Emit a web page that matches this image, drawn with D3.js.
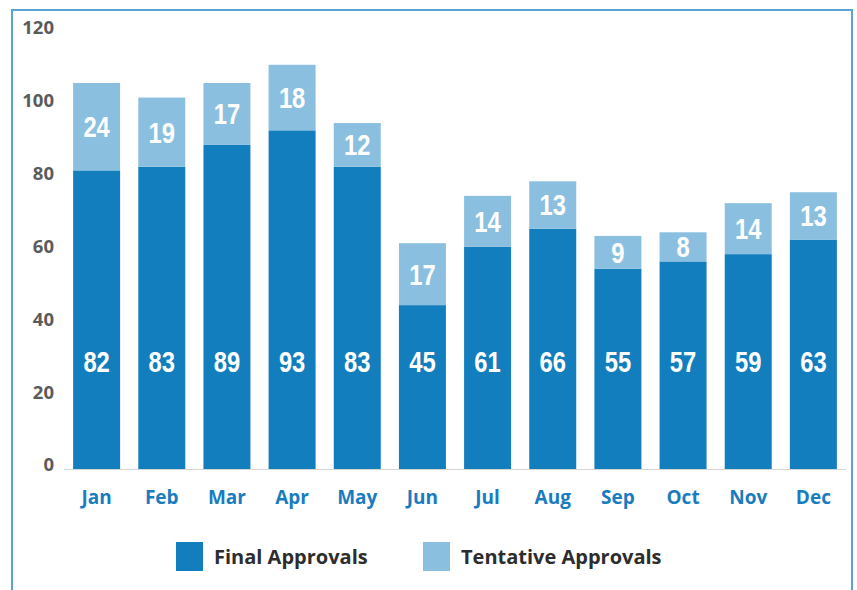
<!DOCTYPE html>
<html>
<head>
<meta charset="utf-8">
<script src="https://cdn.jsdelivr.net/npm/d3@7"></script>
<style>
  html, body { margin: 0; padding: 0; background: #fff; }
  svg { display: block; }
  .tick-y { font-family: "Open Sans", sans-serif; font-weight: 700; font-size: 18.5px; fill: #5b5b5b; }
  .tick-x { font-family: "Open Sans", sans-serif; font-weight: 700; font-size: 19px; fill: #1a7cbf; }
  .val { font-family: "Liberation Sans", Arial, sans-serif; font-weight: 700; font-size: 29px; fill: #fff; }
  .leg { font-family: "Open Sans", sans-serif; font-weight: 700; font-size: 20px; fill: #2d2d2d; }
</style>
</head>
<body>
<svg id="chart" width="857" height="590"></svg>
<script>
const months = ["Jan", "Feb", "Mar", "Apr", "May", "Jun", "Jul", "Aug", "Sep", "Oct", "Nov", "Dec"];
const finalApprovals = [82, 83, 89, 93, 83, 45, 61, 66, 55, 57, 59, 63];
const tentativeApprovals = [24, 19, 17, 18, 12, 17, 14, 13, 9, 8, 14, 13];
const yTicks = [0, 20, 40, 60, 80, 100, 120];
const seriesNames = ["Final Approvals", "Tentative Approvals"];
const colors = ["#127ebd", "#8abfdf"];

const W = 857, H = 590;
const svg = d3.select("#chart");

// frame round the chart (no bottom edge in the reference)
svg.append("path")
  .attr("d", `M12,${H} V10 H852 V${H}`)
  .attr("fill", "none")
  .attr("stroke", "#5aa3d4")
  .attr("stroke-width", 2);

const x = d3.scaleBand()
  .domain(months)
  .range([64, 846])
  .paddingInner(0.279)
  .paddingOuter(0.14);

const y = d3.scaleLinear()
  .domain([0, 120])
  .range([469, 32]);

const rows = months.map((m, i) => ({
  month: m,
  final: finalApprovals[i],
  tentative: tentativeApprovals[i],
}));

const stack = d3.stack().keys(["final", "tentative"])(rows);

const layers = svg.append("g")
  .selectAll("g")
  .data(stack)
  .join("g")
  .attr("fill", (d, i) => colors[i]);

layers.selectAll("rect")
  .data((d) => d)
  .join("rect")
  .attr("x", (d) => x(d.data.month))
  .attr("y", (d) => y(d[1]))
  .attr("width", x.bandwidth())
  .attr("height", (d) => y(d[0]) - y(d[1]));

// baseline
svg.append("line")
  .attr("x1", 64).attr("x2", 846)
  .attr("y1", y(0) + 0.5).attr("y2", y(0) + 0.5)
  .attr("stroke", "#d5d5d5")
  .attr("stroke-width", 1);

// value labels, squeezed sideways to look like a condensed face
const cx = (d) => x(d.month) + x.bandwidth() / 2;

svg.append("g")
  .selectAll("text")
  .data(rows)
  .join("text")
  .attr("class", "val")
  .attr("text-anchor", "middle")
  .attr("transform", (d) => `translate(${cx(d)},${y(29.6)}) scale(0.82,1)`)
  .attr("dy", "0.36em")
  .text((d) => d.final);

svg.append("g")
  .selectAll("text")
  .data(rows)
  .join("text")
  .attr("class", "val")
  .attr("text-anchor", "middle")
  .attr("transform", (d) => `translate(${cx(d)},${y(d.final + d.tentative / 2)}) scale(0.82,1)`)
  .attr("dy", "0.36em")
  .text((d) => d.tentative);

// y tick labels
svg.append("g")
  .selectAll("text")
  .data(yTicks)
  .join("text")
  .attr("class", "tick-y")
  .attr("text-anchor", "end")
  .attr("x", 54)
  .attr("y", (d) => y(d) - 4)
  .attr("dy", "0.35em")
  .text((d) => d);

// month labels
svg.append("g")
  .selectAll("text")
  .data(months)
  .join("text")
  .attr("class", "tick-x")
  .attr("text-anchor", "middle")
  .attr("x", (d) => x(d) + x.bandwidth() / 2)
  .attr("y", 497)
  .attr("dy", "0.35em")
  .text((d) => d);

// legend
const legX = [176, 423];
const leg = svg.append("g")
  .selectAll("g")
  .data(seriesNames)
  .join("g")
  .attr("transform", (d, i) => `translate(${legX[i]},542)`);

leg.append("rect")
  .attr("width", 27)
  .attr("height", 29)
  .attr("fill", (d, i) => colors[i]);

leg.append("text")
  .attr("class", "leg")
  .attr("x", 38)
  .attr("y", 14.5)
  .attr("dy", "0.35em")
  .text((d) => d);
</script>
</body>
</html>
